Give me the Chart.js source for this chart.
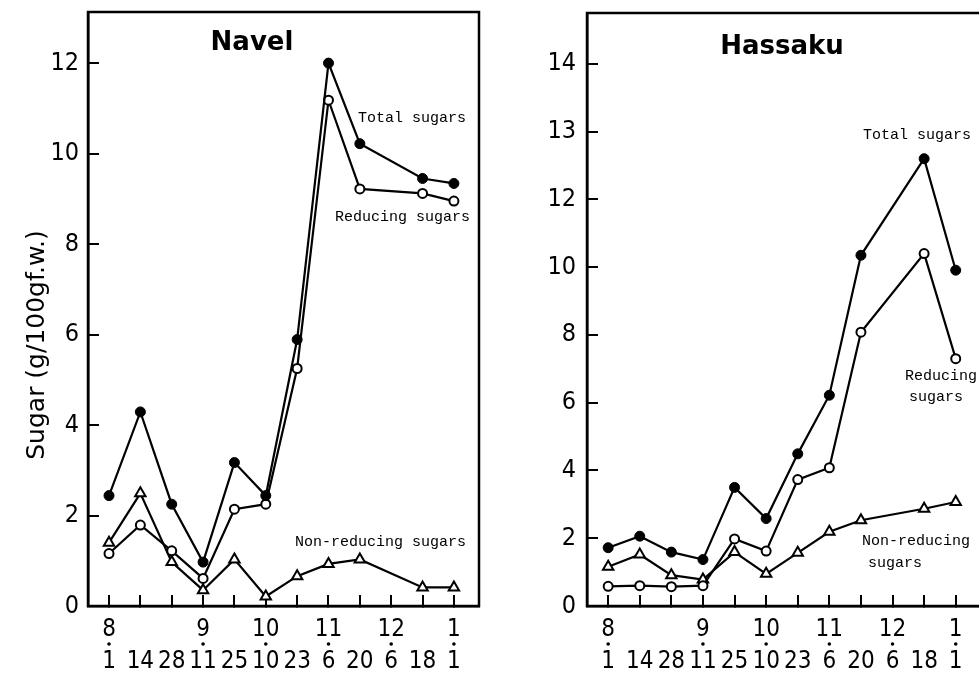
<!DOCTYPE html>
<html>
<head>
<meta charset="utf-8">
<script src="https://cdn.jsdelivr.net/npm/chart.js@4.4.0/dist/chart.umd.min.js"></script>
<style>
    html, body { margin: 0; padding: 0; background: #fff; overflow: hidden; width: 979px; height: 676px; }
    #navelBox { position: absolute; left: 0; top: 0; }
    #hassakuBox { position: absolute; left: 490px; top: 0; }
</style>
</head>
<body>
<div id="navelBox"><canvas id="navelChart" width="490" height="676"></canvas></div>
<div id="hassakuBox"><canvas id="hassakuChart" width="500" height="676"></canvas></div>
<script>
// Sampling dates (month / day), 12/6 has no Navel or Hassaku sample
const months = ['8', '', '', '9', '', '10', '', '11', '', '12', '', '1'];
const days = ['1', '14', '28', '11', '25', '10', '23', '6', '20', '6', '18', '1'];

// Navel (g/100g f.w.)
const navelTotal = [2.44, 4.29, 2.25, 0.97, 3.17, 2.44, 5.89, 12.0, 10.22, null, 9.45, 9.34];
const navelReducing = [1.16, 1.79, 1.22, 0.61, 2.14, 2.25, 5.25, 11.18, 9.22, null, 9.12, 8.95];
const navelNonReducing = [1.40, 2.49, 0.97, 0.35, 1.03, 0.21, 0.66, 0.93, 1.03, null, 0.41, 0.41];

// Hassaku (values on the evenly spaced axis of the figure)
const hassakuTotal = [1.72, 2.06, 1.59, 1.37, 3.50, 2.58, 4.49, 6.22, 10.35, null, 13.2, 9.91];
const hassakuReducing = [0.58, 0.60, 0.57, 0.60, 1.98, 1.62, 3.73, 4.08, 8.08, null, 10.4, 7.30];
const hassakuNonReducing = [1.16, 1.52, 0.91, 0.78, 1.59, 0.95, 1.57, 2.19, 2.53, null, 2.87, 3.07];

// Y axis ticks
const navelYTicks = [0, 2, 4, 6, 8, 10, 12];
const navelYLabels = ['0', '2', '4', '6', '8', '10', '12'];
const hassakuYTicks = [0, 2, 4, 6, 8, 10, 12, 14, 16];
const hassakuYLabels = ['0', '2', '4', '6', '8', '10', '12', '13', '14'];

const tickFont = "'DejaVu Sans Condensed', 'DejaVu Sans', sans-serif";
const monoFont = "15px 'Liberation Mono', monospace";
const titleFont = "bold 26px 'DejaVu Sans', sans-serif";

// Frame, date dots and the text notes inside the panels
const panelDecor = {
    id: 'panelDecor',
    afterDraw(chart, args, opts) {
        const { ctx, chartArea: a } = chart;
        const x = chart.scales.x;
        ctx.save();
        ctx.strokeStyle = '#000';
        ctx.lineWidth = 2.5;
        ctx.strokeRect(a.left, a.top, a.right - a.left, a.bottom - a.top);

        ctx.fillStyle = '#000';
        months.forEach((m, i) => {
            if (!m) return;
            ctx.beginPath();
            ctx.arc(x.getPixelForValue(i), 644, 1.8, 0, Math.PI * 2);
            ctx.fill();
        });

        ctx.textBaseline = 'middle';
        opts.texts.forEach(t => {
            ctx.font = t.font || monoFont;
            ctx.textAlign = t.align || 'left';
            ctx.fillText(t.text, t.x, t.y);
        });

        if (opts.yTitle) {
            ctx.translate(opts.yTitle.x, opts.yTitle.y);
            ctx.rotate(-Math.PI / 2);
            ctx.font = "25px 'DejaVu Sans', sans-serif";
            ctx.textAlign = 'center';
            ctx.fillText(opts.yTitle.text, 0, 0);
        }
        ctx.restore();
    }
};

function toPoints(vals) {
    return vals.map((v, i) => ({ x: i, y: v }));
}

function makeDatasets(total, reducing, nonReducing) {
    const base = { borderColor: '#000', borderWidth: 2.2, tension: 0, spanGaps: true, pointBorderColor: '#000' };
    return [
        { ...base, label: 'Total sugars', data: toPoints(total),
          pointRadius: 5, pointBackgroundColor: '#000', pointBorderWidth: 1 },
        { ...base, label: 'Reducing sugars', data: toPoints(reducing),
          pointRadius: 4.5, pointBackgroundColor: '#fff', pointBorderWidth: 2 },
        { ...base, label: 'Non-reducing sugars', data: toPoints(nonReducing),
          pointStyle: 'triangle', pointRadius: 6, pointBackgroundColor: '#fff', pointBorderWidth: 2 }
    ];
}

function makeChart(id, cfg) {
    const ctx = document.getElementById(id).getContext('2d');
    return new Chart(ctx, {
        type: 'line',
        data: { datasets: makeDatasets(cfg.total, cfg.reducing, cfg.nonReducing) },
        plugins: [panelDecor],
        options: {
            responsive: false,
            animation: false,
            layout: { padding: { top: cfg.padTop, right: cfg.padRight, left: 0, bottom: 0 } },
            scales: {
                x: {
                    type: 'linear',
                    min: -0.67,
                    max: 11.8,
                    afterBuildTicks: s => { s.ticks = days.map((d, i) => ({ value: i })); },
                    afterFit: s => { s.height = 70; s.paddingLeft = 0; s.paddingRight = 0; },
                    grid: { drawOnChartArea: false, color: '#000', lineWidth: 2, tickLength: -11 },
                    border: { display: true, color: '#000', width: 2.5 },
                    ticks: {
                        autoSkip: false,
                        maxRotation: 0,
                        padding: 19,
                        color: '#000',
                        font: { family: tickFont, size: 24, lineHeight: 1.33 },
                        callback: (v, i) => [months[i], days[i]]
                    }
                },
                y: {
                    type: 'linear',
                    min: 0,
                    max: cfg.yMax,
                    afterBuildTicks: s => { s.ticks = cfg.yTicks.map(v => ({ value: v })); },
                    afterFit: s => { s.width = cfg.yWidth; s.paddingTop = 0; s.paddingBottom = 0; },
                    grid: { drawOnChartArea: false, color: '#000', lineWidth: 2, tickLength: -11 },
                    border: { display: true, color: '#000', width: 2.5 },
                    ticks: {
                        padding: cfg.labelPad,
                        color: '#000',
                        font: { family: tickFont, size: 25 },
                        callback: (v, i) => cfg.yLabels[i]
                    }
                }
            },
            plugins: {
                legend: { display: false },
                tooltip: { enabled: false },
                panelDecor: { texts: cfg.texts, yTitle: cfg.yTitle }
            }
        }
    });
}

makeChart('navelChart', {
    total: navelTotal, reducing: navelReducing, nonReducing: navelNonReducing,
    yMax: 13.13, yTicks: navelYTicks, yLabels: navelYLabels,
    yWidth: 88, padTop: 12, padRight: 11, labelPad: 20,
    texts: [
        { text: 'Navel', x: 252, y: 43, align: 'center', font: titleFont },
        { text: 'Total sugars', x: 358, y: 118 },
        { text: 'Reducing sugars', x: 335, y: 217 },
        { text: 'Non-reducing sugars', x: 295, y: 542 }
    ],
    yTitle: { text: 'Sugar (g/100gf.w.)', x: 37, y: 345 }
});

makeChart('hassakuChart', {
    total: hassakuTotal, reducing: hassakuReducing, nonReducing: hassakuNonReducing,
    yMax: 17.5, yTicks: hassakuYTicks, yLabels: hassakuYLabels,
    yWidth: 97, padTop: 13, padRight: 9, labelPad: 22,
    texts: [
        { text: 'Hassaku', x: 292, y: 47, align: 'center', font: titleFont },
        { text: 'Total sugars', x: 373, y: 135 },
        { text: 'Reducing', x: 415, y: 376 },
        { text: 'sugars', x: 419, y: 397 },
        { text: 'Non-reducing', x: 372, y: 541 },
        { text: 'sugars', x: 378, y: 563 }
    ]
});
</script>
</body>
</html>
